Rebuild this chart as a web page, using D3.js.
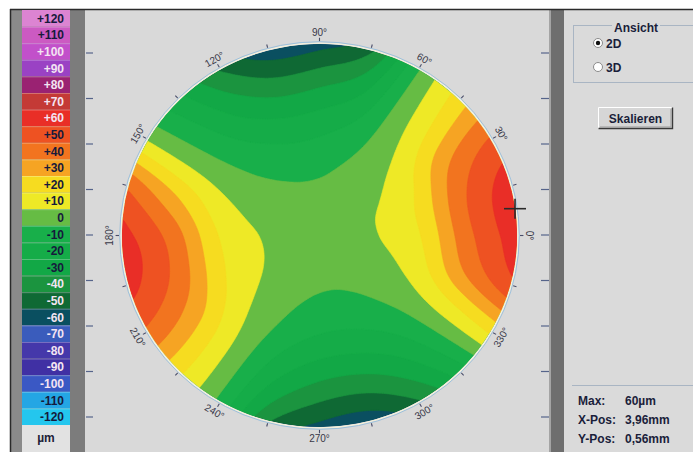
<!DOCTYPE html>
<html>
<head>
<meta charset="utf-8">
<script src="https://cdn.jsdelivr.net/npm/d3@7"></script>
<style>
  body { margin: 0; background: #fff; }
  svg { display: block; }
  text { font-family: "Liberation Sans", Arial, sans-serif; }
</style>
</head>
<body>
<svg id="chart" width="693" height="452"></svg>
<script>
// Height classes of the colour scale (µm), top to bottom
const levels = [120, 110, 100, 90, 80, 70, 60, 50, 40, 30, 20, 10, 0,
                -10, -20, -30, -40, -50, -60, -70, -80, -90, -100, -110, -120];
const levelColors = ["#dc84d2", "#cc5ac2", "#c250ca", "#9a42c4", "#9a2272", "#c43a36",
                     "#e92e27", "#ee5222", "#f2741f", "#f6a423", "#f6dc20", "#eee926",
                     "#66bc44", "#18af4a", "#15ac48", "#12a846", "#1b943f", "#0f6934",
                     "#0a4f60", "#3a5cbc", "#4538aa", "#4030a4", "#3a58c4", "#24a6e4", "#24c6ee"];
const levelLabelDark = [1, 1, 0, 0, 0, 0, 0, 1, 1, 1, 1, 1, 1, 1, 1, 1, 0, 0, 0, 0, 0, 0, 0, 1, 1];
const unitLabel = "µm";

// Surface heights (µm) along the meridians, one ring per radius (mm)
const meridians = [0, 15, 30, 45, 60, 75, 90, 105, 120, 135, 150, 165,
                   180, 195, 210, 225, 240, 255, 270, 285, 300, 315, 330, 345];
const radii = [0, 1, 2, 3, 4];
const ring0 = [0, 0, 0, 0, 0, 0, 0, 0, 0, 0, 0, 0, 0, 0, 0, 0, 0, 0, 0, 0, 0, 0, 0, 0];
const ring1 = [3.6, 3.7, 2.8, 1.2, -0.6, -2.4, -3.5, -3.7, -3, -1.6, 0.3, 2.1,
               3.4, 3.7, 3, 1.4, -0.5, -2.4, -3.5, -3.7, -2.8, -1.1, 0.9, 2.6];
const ring2 = [14, 15, 11, 5, -2.5, -9.5, -14, -15, -12, -6.5, 1, 8.5,
               14, 15, 12, 5.5, -2, -9.5, -14, -14.5, -11, -4.5, 3.5, 10];
const ring3 = [42, 43, 34, 14, -4, -25, -33, -35, -28, -14, 3, 26,
               41, 42, 32, 14, -5, -24, -34, -35, -27, -11, 11, 34];
const ring4 = [60, 60, 46, 20, -6, -47, -59, -61, -46, -22, 4, 43,
               58, 58, 43, 17, -8, -44, -58, -61, -46, -20, 17, 52];
const rings = [ring0, ring1, ring2, ring3, ring4];

// Angle scale around the map (degrees)
const angleLabels = [0, 30, 60, 90, 120, 150, 180, 210, 240, 270, 300, 330];
const angleTicks = d3.range(0, 360, 15);

// Position and value of the maximum
const maxValue = 60;
const maxX = 3.96;
const maxY = 0.56;

// Side panel
const viewTitle = "Ansicht";
const viewOptions = ["2D", "3D"];
const selectedView = "2D";
const scaleButton = "Skalieren";
const rulerTicks = d3.range(0, 9);

const svg = d3.select("#chart");
const W = 693, H = 452;

// ---------- frame and panels ----------
svg.append("rect").attr("width", W).attr("height", H).attr("fill", "#ffffff");
svg.append("rect").attr("x", 11).attr("y", 10).attr("width", W - 11).attr("height", H - 10).attr("fill", "#8a8a8a");
svg.append("rect").attr("x", 85).attr("y", 10).attr("width", 464).attr("height", H - 10).attr("fill", "#d9d9d9");
svg.append("rect").attr("x", 70).attr("y", 10).attr("width", 15).attr("height", H - 10).attr("fill", "#7c7c7c");
svg.append("rect").attr("x", 549).attr("y", 10).attr("width", 15).attr("height", H - 10).attr("fill", "#6e6e6e");
svg.append("rect").attr("x", 549).attr("y", 10).attr("width", 2).attr("height", H - 10).attr("fill", "#a4a4a4");
svg.append("rect").attr("x", 564).attr("y", 10).attr("width", W - 564).attr("height", H - 10).attr("fill", "#dadada");
svg.append("line").attr("x1", 10).attr("x2", W).attr("y1", 9.5).attr("y2", 9.5).attr("stroke", "#2a2a2a").attr("stroke-width", 1.5);
svg.append("line").attr("x1", 10.5).attr("x2", 10.5).attr("y1", 9).attr("y2", H).attr("stroke", "#2a2a2a").attr("stroke-width", 1.5);

// ---------- colour legend ----------
const legendY = d3.scaleBand().domain(levels).range([10, 425]);
const colorOf = d3.scaleOrdinal(levels, levelColors);
const leg = svg.append("g");
leg.selectAll("rect.cell").data(levels).join("rect")
  .attr("class", "cell")
  .attr("x", 22).attr("width", 48)
  .attr("y", d => legendY(d)).attr("height", legendY.bandwidth())
  .attr("fill", d => colorOf(d));
leg.selectAll("line.sep").data(levels.slice(1)).join("line")
  .attr("class", "sep")
  .attr("x1", 22).attr("x2", 70)
  .attr("y1", d => legendY(d) + 0.5).attr("y2", d => legendY(d) + 0.5)
  .attr("stroke", "rgba(255,255,255,0.28)");
leg.selectAll("text").data(levels).join("text")
  .attr("x", 64)
  .attr("y", d => legendY(d) + legendY.bandwidth() / 2 + 4.5)
  .attr("text-anchor", "end")
  .attr("font-size", 12).attr("font-weight", "bold")
  .attr("fill", (d, i) => levelLabelDark[i] ? "#161a3c" : "#f3e4f2")
  .text(d => d > 0 ? "+" + d : String(d));
leg.append("rect").attr("x", 22).attr("y", 425).attr("width", 48).attr("height", H - 425).attr("fill", "#e2e2e2");
leg.append("text").attr("x", 46).attr("y", 442).attr("text-anchor", "middle")
  .attr("font-size", 12).attr("font-weight", "bold").attr("fill", "#1e2238").text(unitLabel);

// ---------- ruler ticks on the plot panel ----------
const rulerY = d3.scaleLinear().domain([0, 8]).range([53, 417]);
svg.append("g").selectAll("line").data(rulerTicks).join("line")
  .attr("x1", 86).attr("x2", 93).attr("y1", d => rulerY(d)).attr("y2", d => rulerY(d))
  .attr("stroke", "#56648a").attr("stroke-width", 1.2);
svg.append("g").selectAll("line").data(rulerTicks).join("line")
  .attr("x1", 541).attr("x2", 549).attr("y1", d => rulerY(d)).attr("y2", d => rulerY(d))
  .attr("stroke", "#56648a").attr("stroke-width", 1.2);

// ---------- height map ----------
const sx = d3.scaleLinear().domain([-4, 4]).range([122, 517]);
const sy = d3.scaleLinear().domain([-4, 4]).range([427, 44]);
const cx = sx(0), cy = sy(0), rx = sx(4) - sx(0), ry = sy(0) - sy(4);

// Smooth surface through the ring/meridian nodes (Catmull-Rom in angle and radius)
const nA = meridians.length, dA = 360 / nA, rMax = radii[radii.length - 1];
function node(k, a) {
  a = ((a % nA) + nA) % nA;
  if (k < 0) return rings[1][(a + nA / 2) % nA];          // through the centre
  if (k >= rings.length) {
    const n = rings.length - 1;
    return 3 * rings[n][a] - 3 * rings[n - 1][a] + rings[n - 2][a];
  }
  return rings[k][a];
}
function cr(p0, p1, p2, p3, t) {
  return 0.5 * (2 * p1 + (-p0 + p2) * t + (2 * p0 - 5 * p1 + 4 * p2 - p3) * t * t +
                (-p0 + 3 * p1 - 3 * p2 + p3) * t * t * t);
}
function surface(r, deg) {
  const rr = Math.min(r, rMax);
  const k = Math.min(Math.floor(rr), rings.length - 2), s = rr - k;
  const u = deg / dA, i = Math.floor(u), t = u - i;
  const row = kk => cr(node(kk, i - 1), node(kk, i), node(kk, i + 1), node(kk, i + 2), t);
  return cr(row(k - 1), row(k), row(k + 1), row(k + 2), s);
}
const step = 0.05;                       // mm per sample
const M = Math.round(2 * rMax / step) + 1;
const values = new Float64Array(M * M);
for (let j = 0; j < M; j++) {
  const y = rMax - j * step;
  for (let i = 0; i < M; i++) {
    const x = -rMax + i * step;
    const deg = ((Math.atan2(y, x) * 180 / Math.PI) + 360) % 360;
    values[i + j * M] = surface(Math.hypot(x, y), deg);
  }
}
const thresholds = d3.range(-65, 66, 10);
const contours = d3.contours().size([M, M]).thresholds(thresholds)(values);
const toScreen = d3.geoTransform({
  point(x, y) {
    this.stream.point(sx(-rMax + (x - 0.5) * step), sy(rMax - (y - 0.5) * step));
  }
});
const path = d3.geoPath(toScreen);

svg.append("defs").append("clipPath").attr("id", "disc")
  .append("ellipse").attr("cx", cx).attr("cy", cy).attr("rx", rx).attr("ry", ry);

const map = svg.append("g").attr("clip-path", "url(#disc)");
map.append("ellipse").attr("cx", cx).attr("cy", cy).attr("rx", rx).attr("ry", ry).attr("fill", colorOf(-70));
map.selectAll("path").data(contours).join("path")
  .attr("d", path)
  .attr("fill", d => colorOf(d.value + 5))
  .attr("stroke", d => colorOf(d.value + 5)).attr("stroke-width", 0.6);

svg.append("ellipse").attr("cx", cx).attr("cy", cy).attr("rx", rx + 1).attr("ry", ry + 1)
  .attr("fill", "none").attr("stroke", "#f3efdc").attr("stroke-width", 1.5);
svg.append("ellipse").attr("cx", cx).attr("cy", cy).attr("rx", rx + 2.3).attr("ry", ry + 2.3)
  .attr("fill", "none").attr("stroke", "#9cc0dc").attr("stroke-width", 1);

// ---------- angle ticks and labels ----------
const rad = a => a * Math.PI / 180;
svg.append("g").selectAll("line").data(angleTicks).join("line")
  .attr("x1", a => sx(4.06 * Math.cos(rad(a)))).attr("y1", a => sy(4.06 * Math.sin(rad(a))))
  .attr("x2", a => sx(4.13 * Math.cos(rad(a)))).attr("y2", a => sy(4.13 * Math.sin(rad(a))))
  .attr("stroke", "#4a4e6a").attr("stroke-width", 1.1);
svg.append("g").selectAll("text").data(angleLabels).join("text")
  .attr("transform", a => {
    const x = sx(4.25 * Math.cos(rad(a))), y = sy(4.25 * Math.sin(rad(a)));
    const rot = a <= 180 ? 90 - a : 270 - a;
    return `translate(${x},${y}) rotate(${rot})`;
  })
  .attr("text-anchor", "middle").attr("dy", "0.35em")
  .attr("font-size", 10).attr("fill", "#383848")
  .text(a => a + "°");

// ---------- maximum marker ----------
const mx = sx(maxX), my = sy(maxY);
const cross = svg.append("g").attr("stroke", "#2a2a2a").attr("stroke-width", 1.6);
cross.append("line").attr("x1", mx - 11).attr("x2", mx + 11).attr("y1", my).attr("y2", my);
cross.append("line").attr("x1", mx).attr("x2", mx).attr("y1", my - 10).attr("y2", my + 10);

// ---------- side panel: view selection ----------
const panel = svg.append("g");
panel.append("rect").attr("x", 573.5).attr("y", 25.5).attr("width", 140).attr("height", 57)
  .attr("fill", "none").attr("stroke", "#a9b5c3");
panel.append("rect").attr("x", 612).attr("y", 20).attr("width", 48).attr("height", 12).attr("fill", "#dadada");
panel.append("text").attr("x", 636).attr("y", 32).attr("text-anchor", "middle")
  .attr("font-size", 12).attr("font-weight", "bold").attr("fill", "#1a1e3a").text(viewTitle);
const optY = d3.scalePoint().domain(viewOptions).range([43, 67]);
const opts = panel.selectAll("g.opt").data(viewOptions).join("g").attr("class", "opt")
  .attr("transform", d => `translate(598,${optY(d)})`);
opts.append("circle").attr("r", 4.5).attr("fill", "#ffffff").attr("stroke", "#8a8a8a");
opts.filter(d => d === selectedView).append("circle").attr("r", 2.2).attr("fill", "#111");
opts.append("text").attr("x", 8).attr("y", 4.5)
  .attr("font-size", 12).attr("font-weight", "bold").attr("fill", "#1a1e3a").text(d => d);

// button
const btn = panel.append("g").attr("transform", "translate(598,107)");
btn.append("rect").attr("width", 75).attr("height", 22).attr("fill", "#d6d6d6");
btn.append("path").attr("d", "M0.5,21.5 V0.5 H74.5").attr("fill", "none").attr("stroke", "#ffffff");
btn.append("path").attr("d", "M0.5,21.5 H74.5 V0.5").attr("fill", "none").attr("stroke", "#3a3a3a").attr("stroke-width", 1.4);
btn.append("path").attr("d", "M2,20 H73 V2").attr("fill", "none").attr("stroke", "#9a9a9a");
btn.append("text").attr("x", 37.5).attr("y", 15.5).attr("text-anchor", "middle")
  .attr("font-size", 12).attr("font-weight", "bold").attr("fill", "#1a1e3a").text(scaleButton);

// ---------- side panel: maximum read-out ----------
panel.append("line").attr("x1", 572).attr("x2", W).attr("y1", 385.5).attr("y2", 385.5).attr("stroke", "#a9b5c3");
const fmt = v => d3.format(".2f")(v).replace(".", ",");
const readout = [
  ["Max:", maxValue + "µm"],
  ["X-Pos:", fmt(maxX) + "mm"],
  ["Y-Pos:", fmt(maxY) + "mm"]
];
const rowY = d3.scalePoint().domain(readout.map(d => d[0])).range([405, 443]);
const rows = panel.selectAll("g.ro").data(readout).join("g").attr("class", "ro")
  .attr("transform", d => `translate(0,${rowY(d[0])})`);
rows.append("text").attr("x", 578).attr("font-size", 12).attr("font-weight", "bold")
  .attr("fill", "#1a1e3a").text(d => d[0]);
rows.append("text").attr("x", 625).attr("font-size", 12).attr("font-weight", "bold")
  .attr("fill", "#1a1e3a").text(d => d[1]);
</script>
</body>
</html>
